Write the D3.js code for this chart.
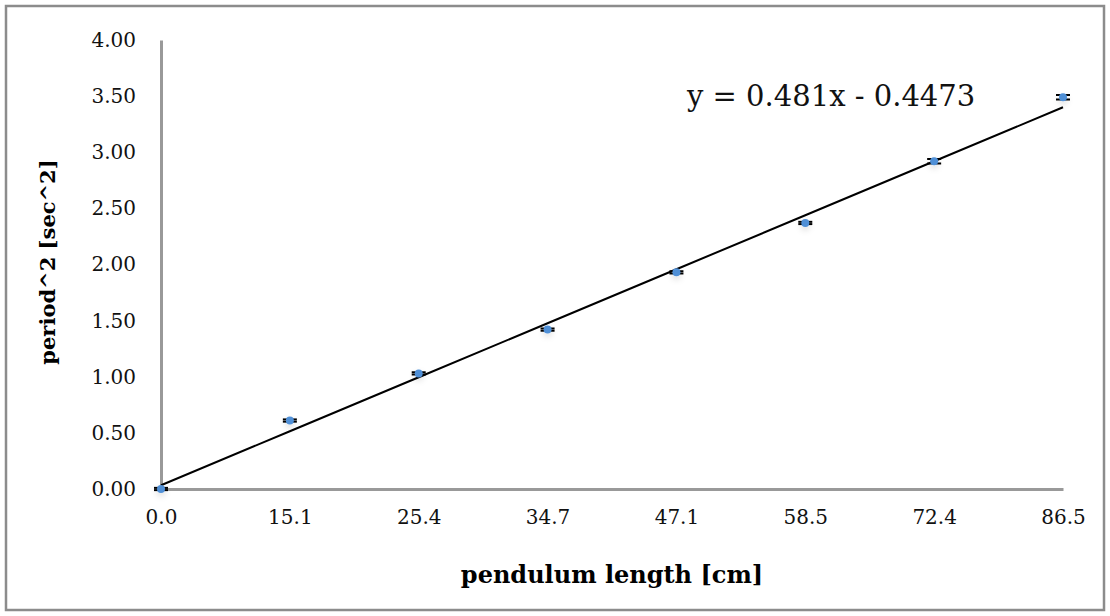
<!DOCTYPE html>
<html>
<head>
<meta charset="utf-8">
<script src="https://cdn.jsdelivr.net/npm/d3@7"></script>
<style>
  body { margin: 0; background: #fff; }
  text { font-family: "DejaVu Serif", "Liberation Serif", serif; }
</style>
</head>
<body>
<svg class="chart_svg"></svg>
<script>
// pendulum length categories (cm) and measured period^2 (sec^2)
var lengths = ["0.0", "15.1", "25.4", "34.7", "47.1", "58.5", "72.4", "86.5"];
var periodSq = [0, 0.61, 1.03, 1.42, 1.93, 2.37, 2.92, 3.49];
var errY = [0.01, 0.01, 0.01, 0.01, 0.01, 0.01, 0.02, 0.02];
var yTicks = [0, 0.5, 1, 1.5, 2, 2.5, 3, 3.5, 4];
var trendSlope = 0.481, trendIntercept = -0.4473;

var W = 1110, H = 616;
var margin = { top: 40, right: 47, bottom: 127, left: 161 },
  w = W - margin.left - margin.right,
  h = H - margin.top - margin.bottom;

var svg = d3.select(".chart_svg").attr("width", W).attr("height", H);

svg.append("rect")
  .attr("x", 6).attr("y", 6)
  .attr("width", W - 12).attr("height", H - 12)
  .attr("fill", "#fff")
  .attr("stroke", "#8c8c8c")
  .attr("stroke-width", 2.5);

var g = svg.append("g").attr("transform", `translate(${margin.left}, ${margin.top})`);

var x_scale = d3.scalePoint().domain(lengths).range([0, w]);
var y_scale = d3.scaleLinear().domain([0, 4]).range([h, 0]);

// y axis
var yAxis = g.append("g")
  .call(d3.axisLeft(y_scale).tickValues(yTicks).tickFormat(d3.format(".2f")).tickSize(0).tickPadding(25));
yAxis.select(".domain").attr("stroke", "#999").attr("stroke-width", 3);
yAxis.selectAll("text").style("font-size", "20px").style("font-family", "DejaVu Serif").attr("fill", "#111");

// x axis
var xAxis = g.append("g")
  .attr("transform", `translate(0, ${h})`)
  .call(d3.axisBottom(x_scale).tickSize(0).tickPadding(21));
xAxis.select(".domain").attr("stroke", "#999").attr("stroke-width", 3);
xAxis.selectAll("text").style("font-size", "20px").style("font-family", "DejaVu Serif").attr("fill", "#111");

// shadow filter for markers
var defs = svg.append("defs");
var f = defs.append("filter").attr("id", "shadow").attr("x", "-200%").attr("y", "-200%").attr("width", "500%").attr("height", "500%");
f.append("feDropShadow").attr("dx", 0).attr("dy", 3).attr("stdDeviation", 3).attr("flood-color", "#000").attr("flood-opacity", 0.15);

// trendline over category index 1..n
var trend = lengths.map((d, i) => ({ c: d, v: trendSlope * (i + 1) + trendIntercept }));
g.append("path")
  .datum(trend)
  .attr("fill", "none")
  .attr("stroke", "#000")
  .attr("stroke-width", 2)
  .attr("d", d3.line().x((d) => x_scale(d.c)).y((d) => y_scale(d.v)));

// error bars (caps)
var caps = [];
lengths.forEach((d, i) => {
  caps.push({ c: d, v: periodSq[i] + errY[i] });
  caps.push({ c: d, v: periodSq[i] - errY[i] });
});
g.selectAll(".cap")
  .data(caps)
  .join("line")
  .attr("class", "cap")
  .attr("x1", (d) => x_scale(d.c) - 7)
  .attr("x2", (d) => x_scale(d.c) + 7)
  .attr("y1", (d) => y_scale(d.v))
  .attr("y2", (d) => y_scale(d.v))
  .attr("stroke", "#000")
  .attr("stroke-width", 2);

// markers
g.selectAll(".pt")
  .data(lengths)
  .join("circle")
  .attr("class", "pt")
  .attr("cx", (d) => x_scale(d))
  .attr("cy", (d, i) => y_scale(periodSq[i]))
  .attr("r", 4)
  .attr("fill", "#4f8fd6")
  .attr("filter", "url(#shadow)");

// equation label
svg.append("text")
  .attr("x", 687)
  .attr("y", 106)
  .style("font-size", "29px")
  .attr("fill", "#111")
  .text("y = 0.481x - 0.4473");

// axis titles
svg.append("text")
  .attr("x", 612)
  .attr("y", 583)
  .attr("text-anchor", "middle")
  .style("font-size", "24px")
  .style("font-weight", "bold")
  .text("pendulum length [cm]");

svg.append("text")
  .attr("transform", "translate(55, 262) rotate(-90)")
  .attr("text-anchor", "middle")
  .style("font-size", "21px")
  .style("font-weight", "bold")
  .text("period^2 [sec^2]");
</script>
</body>
</html>
